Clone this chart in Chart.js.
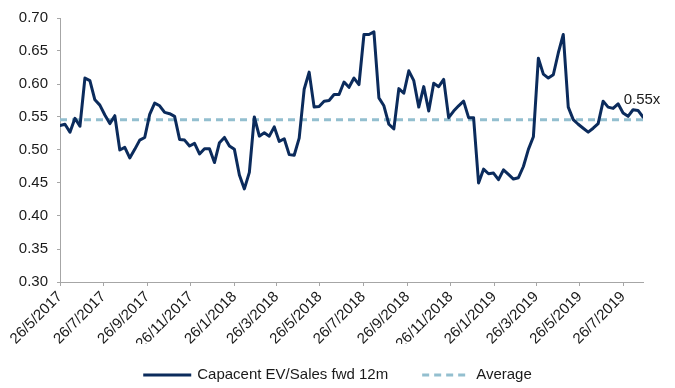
<!DOCTYPE html>
<html>
<head>
<meta charset="utf-8">
<script src="https://cdn.jsdelivr.net/npm/chart.js@4/dist/chart.umd.min.js"></script>
<style>
  html, body { margin: 0; padding: 0; background: #ffffff; }
  #wrap { width: 675px; height: 388px; }
</style>
</head>
<body>
<div id="wrap"><canvas id="c" width="675" height="388"></canvas></div>
<script>
// Weekly observations, first one on 26/5/2017
const startDate = '26/5/2017';
const stepDays = 7;

const evSales = [
  0.537, 0.539, 0.527, 0.548, 0.536, 0.609, 0.605, 0.576, 0.568, 0.553,
  0.540, 0.552, 0.500, 0.504, 0.488, 0.501, 0.515, 0.519, 0.554, 0.571,
  0.567, 0.557, 0.555, 0.551, 0.516, 0.515, 0.506, 0.510, 0.494, 0.502,
  0.502, 0.481, 0.511, 0.519, 0.506, 0.501, 0.462, 0.441, 0.466, 0.550,
  0.521, 0.526, 0.521, 0.535, 0.513, 0.517, 0.493, 0.492, 0.518, 0.592,
  0.618, 0.565, 0.566, 0.574, 0.575, 0.584, 0.584, 0.603, 0.595, 0.609,
  0.599, 0.675, 0.675, 0.679, 0.579, 0.567, 0.539, 0.532, 0.593, 0.586,
  0.620, 0.605, 0.565, 0.596, 0.559, 0.601, 0.596, 0.607, 0.549, 0.559,
  0.567, 0.574, 0.549, 0.549, 0.450, 0.471, 0.464, 0.465, 0.455, 0.470,
  0.463, 0.456, 0.458, 0.475, 0.501, 0.520, 0.639, 0.615, 0.609, 0.614,
  0.647, 0.675, 0.565, 0.546, 0.539, 0.533, 0.527, 0.533, 0.540, 0.574,
  0.565, 0.563, 0.570, 0.556, 0.551, 0.561, 0.560, 0.550
];

const averageValue = 0.546;

const tickLabels = [
  '26/5/2017', '26/7/2017', '26/9/2017', '26/11/2017',
  '26/1/2018', '26/3/2018', '26/5/2018', '26/7/2018',
  '26/9/2018', '26/11/2018', '26/1/2019', '26/3/2019',
  '26/5/2019', '26/7/2019'
];

const yTicks = [0.30, 0.35, 0.40, 0.45, 0.50, 0.55, 0.60, 0.65, 0.70];

const seriesName = 'Capacent EV/Sales fwd 12m';
const averageName = 'Average';

// d/m/yyyy -> days since the first observation
function toUTC(s) {
  const [d, m, y] = s.split('/').map(Number);
  return Date.UTC(y, m - 1, d);
}
const t0 = toUTC(startDate);
const dayOffset = s => Math.round((toUTC(s) - t0) / 86400000);
const tickDays = tickLabels.map(dayOffset);

const seriesPoints = evSales.map((v, i) => ({ x: i * stepDays, y: v }));
const lastDay = (evSales.length - 1) * stepDays;
const averagePoints = [{ x: 0, y: averageValue }, { x: lastDay, y: averageValue }];

const FONT = "'Liberation Sans', Arial, sans-serif";
const TEXT = '#1a1a1a';
const AXIS = '#a6a6a6';
const NAVY = '#0b2b5c';
const TEAL = '#93bfcf';

// value tag over the latest observation
const lastValueTag = {
  id: 'lastValueTag',
  afterDatasetsDraw(chart) {
    const meta = chart.getDatasetMeta(0);
    const pt = meta.data[meta.data.length - 1];
    const v = evSales[evSales.length - 1];
    const ctx = chart.ctx;
    ctx.save();
    ctx.font = '15px ' + FONT;
    ctx.fillStyle = TEXT;
    ctx.textAlign = 'center';
    ctx.textBaseline = 'bottom';
    ctx.fillText(v.toFixed(2) + 'x', pt.x - 1, pt.y - 10);
    ctx.restore();
  }
};

// legend row under the axis labels
const lineLegend = {
  id: 'lineLegend',
  afterDraw(chart) {
    const ctx = chart.ctx;
    const sample = 48, gap = 6, itemGap = 34, y = 375;
    ctx.save();
    ctx.font = '15px ' + FONT;
    const items = chart.data.datasets.map(ds => ({
      ds, w: sample + gap + ctx.measureText(ds.label).width
    }));
    const total = items.reduce((a, it) => a + it.w, 0) + itemGap * (items.length - 1);
    let x = (chart.width - total) / 2;
    items.forEach(({ ds, w }) => {
      ctx.beginPath();
      ctx.setLineDash(ds.borderDash || []);
      ctx.lineWidth = ds.borderWidth;
      ctx.strokeStyle = ds.borderColor;
      ctx.moveTo(x, y);
      ctx.lineTo(x + sample, y);
      ctx.stroke();
      ctx.setLineDash([]);
      ctx.fillStyle = TEXT;
      ctx.textAlign = 'left';
      ctx.textBaseline = 'middle';
      ctx.fillText(ds.label, x + sample + gap, y);
      x += w + itemGap;
    });
    ctx.restore();
  }
};

new Chart(document.getElementById('c'), {
  type: 'line',
  data: {
    datasets: [
      {
        label: seriesName,
        data: seriesPoints,
        borderColor: NAVY,
        borderWidth: 3,
        pointRadius: 0,
        pointHoverRadius: 0,
        tension: 0,
        borderJoinStyle: 'round',
        borderCapStyle: 'round',
        fill: false
      },
      {
        label: averageName,
        data: averagePoints,
        borderColor: TEAL,
        borderWidth: 3,
        borderDash: [7, 5],
        pointRadius: 0,
        pointHoverRadius: 0,
        tension: 0,
        fill: false
      }
    ]
  },
  options: {
    responsive: false,
    animation: false,
    events: [],
    layout: { padding: { top: 16, right: 32, bottom: 44, left: 0 } },
    plugins: {
      legend: { display: false },
      tooltip: { enabled: false }
    },
    scales: {
      x: {
        type: 'linear',
        min: 0,
        max: lastDay,
        afterBuildTicks: s => { s.ticks = tickDays.map(v => ({ value: v })); },
        afterFit: s => { s.height = 62; },
        grid: { display: true, drawOnChartArea: false, drawTicks: true, tickLength: 4, color: AXIS },
        border: { color: AXIS, width: 1 },
        ticks: {
          autoSkip: false,
          minRotation: 45,
          maxRotation: 45,
          padding: 2,
          color: TEXT,
          font: { family: FONT, size: 15 },
          callback: (v, i) => tickLabels[i]
        }
      },
      y: {
        min: 0.30,
        max: 0.70,
        afterBuildTicks: s => { s.ticks = yTicks.map(v => ({ value: v })); },
        afterFit: s => { s.width = 60; },
        grid: { display: true, drawOnChartArea: false, drawTicks: true, tickLength: 3, color: AXIS },
        border: { color: AXIS, width: 1 },
        ticks: {
          padding: 9,
          color: TEXT,
          font: { family: FONT, size: 15 },
          callback: v => Number(v).toFixed(2)
        }
      }
    }
  },
  plugins: [lastValueTag, lineLegend]
});
</script>
</body>
</html>
